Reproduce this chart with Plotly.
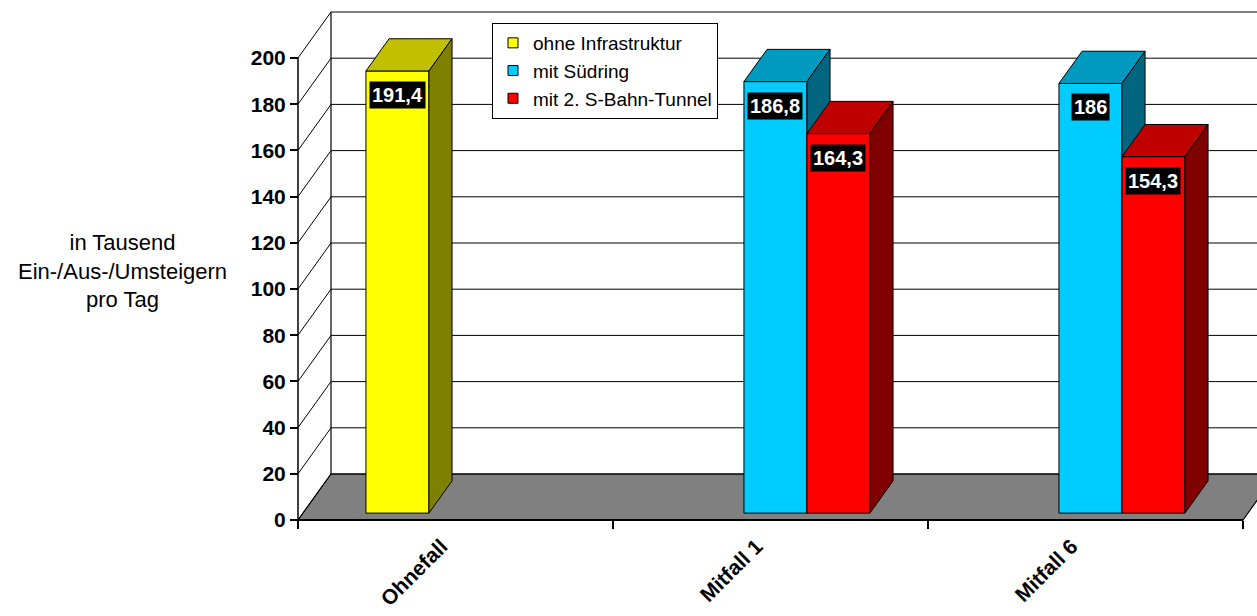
import plotly.graph_objects as go

# ---------------- data ----------------
categories = ["Ohnefall", "Mitfall 1", "Mitfall 6"]
series_names = ["ohne Infrastruktur", "mit Südring", "mit 2. S-Bahn-Tunnel"]
ohne_infrastruktur = [191.4, None, None]
mit_suedring = [None, 186.8, 186.0]
mit_tunnel = [None, 164.3, 154.3]
y_ticks = [0, 20, 40, 60, 80, 100, 120, 140, 160, 180, 200]
y_title = "in Tausend<br>Ein-/Aus-/Umsteigern<br>pro Tag"

series_values = [ohne_infrastruktur, mit_suedring, mit_tunnel]
front_colors = ["#FFFF00", "#00CCFF", "#FF0000"]
top_colors = ["#C0C000", "#0099BF", "#BF0000"]
side_colors = ["#808000", "#006680", "#800000"]

# ---------------- geometry (layout) ----------------
W_FIG, H_FIG = 1257, 616
ML, MR, MT, MB = 240, 0, 2, 80
AX_X0_PX = 298          # pixel of category position 0 on the front plane
CAT_PX = 315            # pixels per category
Y0_PX = 520             # pixel of value 0 on the front plane
K = 462 / 200           # pixels per value unit
DEPTH_DX = 33 / CAT_PX  # depth offset in category units
DEPTH_DY = 46 / K       # depth offset in value units
D1, D2 = 0.15, 0.85     # bar front/back depth fractions
GAP, BW = 0.2, 0.2      # gap and bar width in category units
YMAX = y_ticks[-1]
NCAT = len(categories)

plot_l_px, plot_r_px = ML, W_FIG - MR
plot_t_px, plot_b_px = MT, H_FIG - MB
xr = [(plot_l_px - AX_X0_PX) / CAT_PX, (plot_r_px - AX_X0_PX) / CAT_PX]
yr = [(Y0_PX - plot_b_px) / K, (Y0_PX - plot_t_px) / K]

FONT = "Liberation Sans, Arial, sans-serif"

fig = go.Figure()


def poly(xs, ys, fill, lw=1.0):
    fig.add_trace(go.Scatter(
        x=list(xs) + [xs[0]], y=list(ys) + [ys[0]], mode="lines",
        fill="toself", fillcolor=fill, line=dict(color="black", width=lw),
        showlegend=False, hoverinfo="skip"))


def line(xs, ys, lw=1.0, color="black"):
    fig.add_trace(go.Scatter(
        x=xs, y=ys, mode="lines", line=dict(color=color, width=lw),
        showlegend=False, hoverinfo="skip"))


# floor
poly([0, NCAT, NCAT + DEPTH_DX, DEPTH_DX], [0, 0, DEPTH_DY, DEPTH_DY], "#808080", 1.2)
line([0, NCAT], [0, 0], 2)

# back wall gridlines + side wall diagonals
for v in y_ticks:
    line([DEPTH_DX, NCAT + DEPTH_DX], [v + DEPTH_DY, v + DEPTH_DY], 1)
    line([0, DEPTH_DX], [v, v + DEPTH_DY], 1)
line([DEPTH_DX, DEPTH_DX], [DEPTH_DY, YMAX + DEPTH_DY], 1.2)
# front value axis line
line([0, 0], [0, YMAX], 1.5)

# bars
annotations = []
dd = D2 - D1
for i in range(NCAT):
    for j, vals in enumerate(series_values):
        v = vals[i]
        if v is None:
            continue
        x0 = i + GAP + j * BW + D1 * DEPTH_DX
        x1 = x0 + BW
        yb = D1 * DEPTH_DY
        yt = v + D1 * DEPTH_DY
        ox, oy = dd * DEPTH_DX, dd * DEPTH_DY
        poly([x0, x1, x1, x0], [yb, yb, yt, yt], front_colors[j])
        poly([x0, x1, x1 + ox, x0 + ox], [yt, yt, yt + oy, yt + oy], top_colors[j])
        poly([x1, x1, x1 + ox, x1 + ox], [yb, yt, yt + oy, yb + oy], side_colors[j])
        label = f"{v:g}".replace(".", ",")
        annotations.append(dict(
            x=(x0 + x1) / 2, y=yt, xref="x", yref="y", text=f"<b>{label}</b>",
            showarrow=False, yanchor="top", xanchor="center", yshift=-10,
            bgcolor="black", borderpad=2,
            font=dict(family=FONT, size=20, color="white")))

# legend entries
for j, name in enumerate(series_names):
    fig.add_trace(go.Scatter(
        x=[None], y=[None], mode="markers", name=name, legendgroup=f"g{j}",
        marker=dict(symbol="square", size=10, color=front_colors[j],
                    line=dict(color="black", width=1))))

# y title
annotations.append(dict(
    x=(122 - plot_l_px) / (plot_r_px - plot_l_px),
    y=(plot_b_px - 271) / (plot_b_px - plot_t_px),
    xref="paper", yref="paper", text=y_title, showarrow=False,
    xanchor="center", yanchor="middle", align="center",
    font=dict(family=FONT, size=22, color="black")))

fig.update_layout(
    width=W_FIG, height=H_FIG,
    margin=dict(l=ML, r=MR, t=MT, b=MB, autoexpand=False),
    paper_bgcolor="white", plot_bgcolor="white",
    font=dict(family=FONT, color="black"),
    annotations=annotations,
    showlegend=True,
    legend=dict(
        x=(492 - plot_l_px) / (plot_r_px - plot_l_px),
        y=(plot_b_px - 23) / (plot_b_px - plot_t_px),
        xanchor="left", yanchor="top",
        bgcolor="white", bordercolor="black", borderwidth=1,
        font=dict(family=FONT, size=19, color="black"),
        itemwidth=30, tracegroupgap=0),
    xaxis=dict(
        range=xr, showgrid=False, zeroline=False, showline=False,
        automargin=False,
        tickmode="array", tickvals=[i + 0.5 for i in range(NCAT)],
        ticktext=[f"<b>{c}</b>" for c in categories], tickangle=-45,
        ticks="", tickfont=dict(family=FONT, size=21, color="black"),
        ticklabelshift=-14, ticklabelstandoff=9,
        minor=dict(ticks="outside", tick0=0, dtick=1, ticklen=8,
                   tickcolor="black", tickwidth=1.5, showgrid=False),
        anchor="free",
        position=(plot_b_px - Y0_PX) / (plot_b_px - plot_t_px)),
    yaxis=dict(
        range=yr, showgrid=False, zeroline=False, showline=False,
        automargin=False,
        tickmode="array", tickvals=y_ticks,
        ticktext=[f"<b>{t}</b>" for t in y_ticks],
        ticks="outside", ticklen=8, tickcolor="black", tickwidth=1.5,
        tickfont=dict(family=FONT, size=21, color="black"),
        anchor="free",
        position=(AX_X0_PX - plot_l_px) / (plot_r_px - plot_l_px)),
)

fig.write_html("out.html", config={"displayModeBar": False},
               post_script="document.body.style.margin='0px';")
